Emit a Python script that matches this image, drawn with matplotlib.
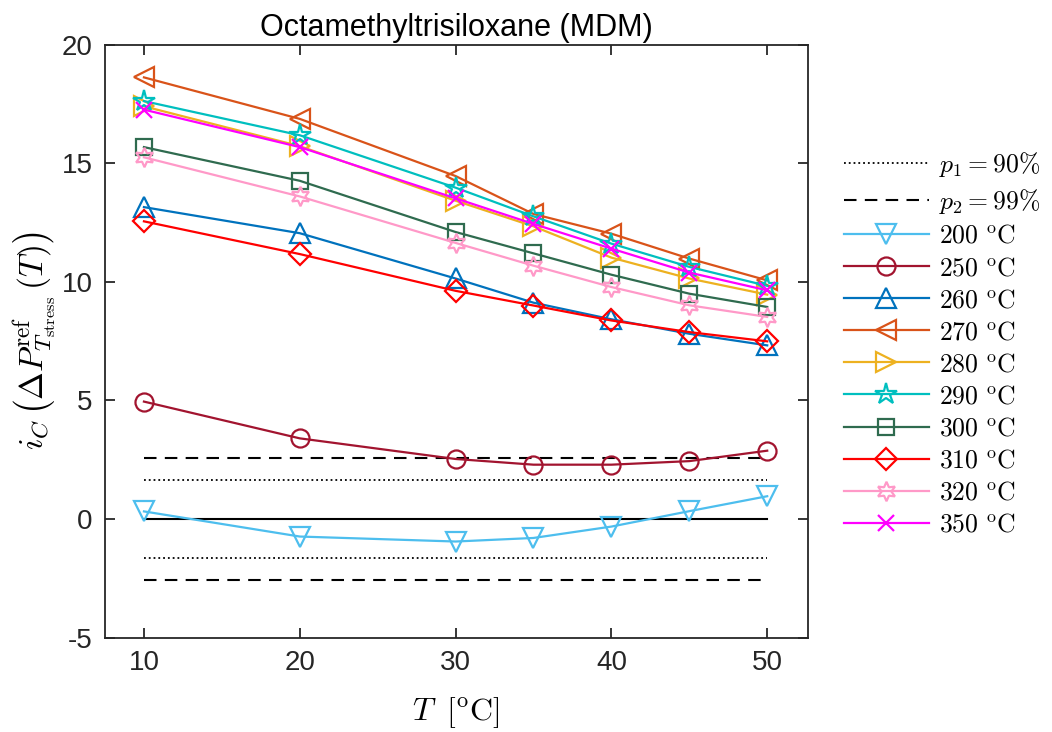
import numpy as np
import matplotlib
matplotlib.use('Agg')
import matplotlib.pyplot as plt

plt.rcParams['font.family'] = ['Liberation Sans', 'DejaVu Sans']
plt.rcParams['mathtext.fontset'] = 'cm'
plt.rcParams['axes.unicode_minus'] = False

# data
T = [10, 20, 30, 35, 40, 45, 50]
p1 = 1.645   # 90 % bound
p2 = 2.576   # 99 % bound

i_200 = [0.32, -0.74, -0.95, -0.80, -0.32, 0.33, 0.96]
i_250 = [4.95, 3.40, 2.53, 2.29, 2.29, 2.44, 2.88]
i_260 = [13.15, 12.05, 10.14, 9.12, 8.42, 7.81, 7.32]
i_270 = [18.62, 16.87, 14.46, 12.86, 12.03, 10.98, 10.06]
i_280 = [17.40, 15.72, 13.42, 12.34, 11.02, 10.14, 9.46]
i_290 = [17.62, 16.18, 13.97, 12.76, 11.61, 10.63, 9.83]
i_300 = [15.68, 14.26, 12.10, 11.20, 10.30, 9.50, 8.94]
i_310 = [12.55, 11.17, 9.62, 9.00, 8.37, 7.88, 7.49]
i_320 = [15.25, 13.60, 11.64, 10.68, 9.78, 9.01, 8.52]
i_350 = [17.26, 15.68, 13.52, 12.44, 11.40, 10.39, 9.64]

hexagram = (6, 1, 0)

# name, values, colour, marker, marker size
series = [
    ('200', i_200, '#4DBEEE', 'v', 15),
    ('250', i_250, '#A2142F', 'o', 13),
    ('260', i_260, '#0072BD', '^', 15),
    ('270', i_270, '#D95319', '<', 15),
    ('280', i_280, '#EDB120', '>', 15),
    ('290', i_290, '#00BFBF', '*', 16),
    ('300', i_300, '#2F6B4F', 's', 12),
    ('310', i_310, '#FF0000', 'D', 11),
    ('320', i_320, '#FF99C8', hexagram, 14),
    ('350', i_350, '#FF00FF', 'x', 11),
]

fig = plt.figure(figsize=(10.52, 7.32), dpi=100)
ax = fig.add_axes([0.0998, 0.129, 0.668, 0.810])

# significance bounds
ax.plot([T[0], T[-1]], [p1, p1], ':', color='k', lw=1.3, label=r'$p_1 = 90\%$')
ax.plot([T[0], T[-1]], [p2, p2], '--', color='k', lw=1.5, dashes=(6, 4), label=r'$p_2 = 99\%$')
ax.plot([T[0], T[-1]], [-p1, -p1], ':', color='k', lw=1.3)
ax.plot([T[0], T[-1]], [-p2, -p2], '--', color='k', lw=1.5, dashes=(6, 4))
ax.plot([T[0], T[-1]], [0, 0], '-', color='k', lw=1.5)

for name, vals, col, mk, ms in series:
    ax.plot(T, vals, '-', color=col, lw=1.6, marker=mk, ms=ms,
            mfc='none', mec=col, mew=1.6,
            label=r'$%s\ {}^{\rm o}{\rm C}$' % name)

ax.set_xlim(7.5, 52.6)
ax.set_ylim(-5, 20)
ax.set_xticks([10, 20, 30, 40, 50])
ax.set_yticks([-5, 0, 5, 10, 15, 20])
ax.tick_params(direction='in', length=7, width=1.3, labelsize=20, top=True, right=True,
               colors='#262626', labelcolor='#262626', pad=9)
for s in ax.spines.values():
    s.set_linewidth(1.3)
    s.set_color('#262626')

ax.set_title('Octamethyltrisiloxane (MDM)', fontsize=22, pad=6)
ax.set_xlabel(r'$T\;\;[{}^{\rm o}{\rm C}]$', fontsize=23, labelpad=14)
ax.set_ylabel(r'$i_C\,\left(\Delta P_{T_{\rm stress}}^{\rm ref}\,(T)\right)$', fontsize=24, labelpad=2)

ax.legend(loc='upper left', bbox_to_anchor=(1.037, 0.84), frameon=False, fontsize=18.5,
          handlelength=3.3, handletextpad=0.4, labelspacing=0.315, borderaxespad=0)

fig.savefig('out.png', dpi=100)
